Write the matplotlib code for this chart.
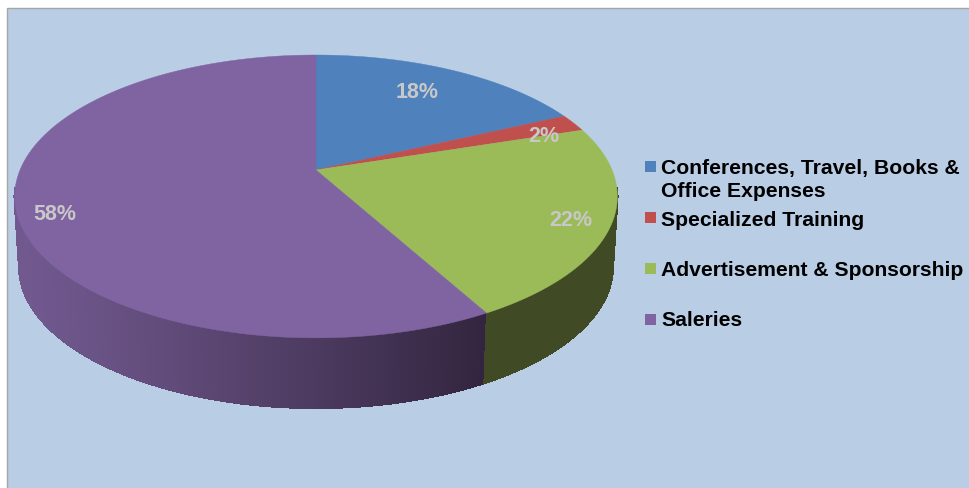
import numpy as np
import matplotlib
matplotlib.use("Agg")
import matplotlib.pyplot as plt
from matplotlib.patches import Rectangle

plt.rcParams['font.family'] = ['Liberation Sans', 'DejaVu Sans']

# Budget shares, clockwise from 12 o'clock
categories = ["Conferences, Travel, Books &\nOffice Expenses", "Specialized Training",
              "Advertisement & Sponsorship", "Saleries"]
shares = [18, 2, 22, 58]
colors = ["#4F81BD", "#C0504D", "#9BBB59", "#8064A2"]

BG = "#B9CDE5"
CX, CY = 316, 170      # apex of the pie on the canvas
RX, RY = 296, 136.5    # projected radii
PERSP = 0.187          # how much the far edge shrinks
DEPTH = 70             # height of the side wall


# Projects a point on the unit circle, angle clockwise from the top
def project(theta, r=1.0, drop=0, shrink=1.0):
    u = r * np.sin(theta)
    v = r * np.cos(theta)
    w = 1 + PERSP * v
    return CX + RX * shrink * u / w, CY - RY * v / w + drop


def mix(c1, c2, t):
    a = np.array(matplotlib.colors.to_rgb(c1))
    b = np.array(matplotlib.colors.to_rgb(c2))
    return a + (b - a) * t


fig = plt.figure(figsize=(9.69, 4.88), dpi=100, facecolor="white")
ax = fig.add_axes([0, 0, 1, 1])
ax.set_xlim(0, 969)
ax.set_ylim(488, 0)
ax.axis("off")

ax.add_patch(Rectangle((7.5, 7.5), 970, 490, facecolor=BG, edgecolor="#A6A6A6", lw=1))

edges = np.cumsum([0] + shares) / sum(shares) * 2 * np.pi

# Side wall, front half only
wall = np.linspace(np.pi * 0.54, np.pi * 1.46, 400)
for a, b in zip(wall[:-1], wall[1:]):
    x1, y1 = project(a)
    x2, y2 = project(b)
    x3, y3 = project(b, drop=DEPTH, shrink=0.985)
    x4, y4 = project(a, drop=DEPTH, shrink=0.985)
    if a < edges[3]:
        c = "#404A25"
    else:
        # Purple wall darkens towards the front right
        t = np.clip((x1 - 20) / (484 - 20), 0, 1)
        c = mix("#71598F", "#33253F", t ** 1.15)
    ax.fill([x1, x2, x3, x4], [y1, y2, y3, y4], facecolor=c, edgecolor=c, lw=1,
            antialiased=False, zorder=2)

# Top face
for i, c in enumerate(colors):
    th = np.linspace(edges[i], edges[i + 1], 200)
    xs, ys = project(th)
    ax.fill(np.r_[CX, xs], np.r_[CY, ys], color=c, lw=0.3, zorder=3)

# Percentage labels
label_x = [417, 544, 571, 55]
label_y = [92, 137, 220, 214]
for x, y, s in zip(label_x, label_y, shares):
    ax.text(x, y, f"{s}%", color="#C8C8C8", fontsize=15.5, fontweight="bold",
            ha="center", va="center", zorder=4)

# Legend
key_y = [166.5, 217.5, 268.5, 319.5]
text_y = [180, 220, 270, 320]
for y, ty, c, name in zip(key_y, text_y, colors, categories):
    ax.add_patch(Rectangle((645, y - 5.5), 11, 11, color=c, lw=0, zorder=4))
    ax.text(661, ty, name, color="black", fontsize=15.2, fontweight="bold",
            ha="left", va="center", linespacing=1.22, zorder=4)

fig.savefig("out.png", dpi=100)
